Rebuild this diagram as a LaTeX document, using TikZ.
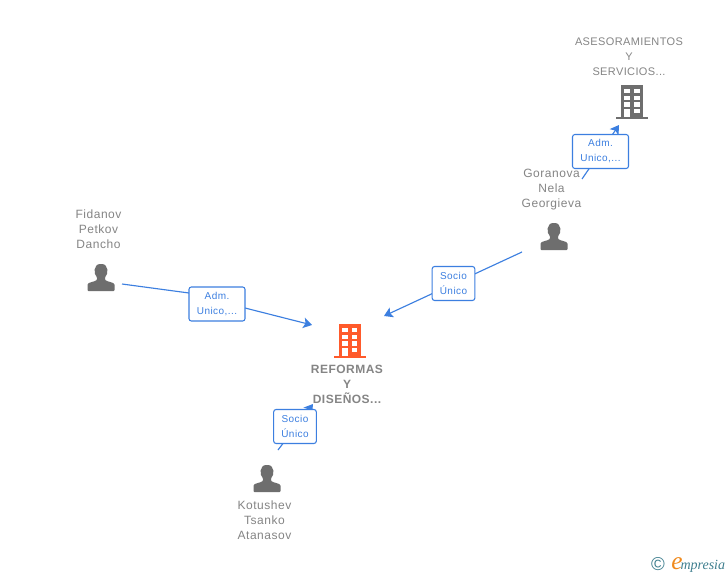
\documentclass[tikz,border=0pt]{standalone}
\usepackage{fontspec}
\setmainfont{Liberation Sans}
\newfontfamily\logofont{Liberation Serif}
\newfontfamily\namefont[LetterSpace=4.5]{Liberation Sans}
\newfontfamily\capsfont[LetterSpace=3.4]{Liberation Sans}
\newfontfamily\mainfont[LetterSpace=4,BoldFont={Liberation Sans Bold}]{Liberation Sans}
\newfontfamily\boxfont[LetterSpace=4.5]{Liberation Sans}
\usetikzlibrary{arrows.meta}
\definecolor{linkblue}{HTML}{3C7FE0}
\definecolor{txtgray}{HTML}{858585}
\definecolor{icongray}{HTML}{6E6E6E}
\definecolor{orangeb}{HTML}{FF5A2B}
\definecolor{logoteal}{HTML}{3F7F8F}
\definecolor{logoorange}{HTML}{F08A1D}
\tikzset{
  x=0.75pt,y=-0.75pt,
  namelabel/.style={text=txtgray,font=\namefont\fontsize{9}{11.25}\selectfont,align=center,inner sep=0pt},
  capslabel/.style={namelabel,font=\capsfont\fontsize{8.25}{11.25}\selectfont},
  mainlabel/.style={namelabel,font=\mainfont\bfseries\fontsize{9}{11.25}\selectfont},
  linkbox/.style={draw=linkblue,line width=0.8pt,rounded corners=1.8pt,fill=white,text=linkblue,
    font=\boxfont\fontsize{7.5}{11.25}\selectfont,align=center,inner sep=0pt,minimum height=25.5pt},
  link/.style={draw=linkblue,line width=0.85pt},
  linkarrow/.style={link,-{Stealth[length=6.5pt,width=8pt,inset=1.5pt]}},
}
% person icon, centred at #2
\newcommand{\personicon}[2][icongray]{%
  \begin{scope}[shift={(#2)}]
    \fill[#1,rounded corners=0.6pt] (-13.5,13.5) -- (-13.5,8)
      .. controls (-13.5,4.5) and (-6,4.5) .. (-4,2)
      -- (-4,-0.5) .. controls (-7.5,-3.5) and (-7.5,-13.5) .. (0,-13.5)
      .. controls (7.5,-13.5) and (7.5,-3.5) .. (4,-0.5) -- (4,2)
      .. controls (6,4.5) and (13.5,4.5) .. (13.5,8) -- (13.5,13.5) -- cycle;
  \end{scope}}
% building icon, centred at #2
\newcommand{\buildingicon}[2][icongray]{%
  \begin{scope}[shift={(#2)}]
    \fill[#1] (-16,14.5) rectangle (16,17);
    \fill[#1] (-11,-17) rectangle (11,15);
    \foreach \yy in {-13,-6.3,0.3}{
      \fill[white] (-7.7,\yy) rectangle (-2,\yy+4.4);
      \fill[white] (2,\yy) rectangle (7.7,\yy+4.4);}
    \fill[white] (-7.7,7) rectangle (-2,15);
    \fill[white] (2,7) rectangle (7.7,11.4);
  \end{scope}}
\begin{document}
\begin{tikzpicture}
\useasboundingbox (0,0) rectangle (728,575);
\fill[white] (0,0) rectangle (728,575);

% text labels
\node[capslabel] (ases) at (629,57) {ASESORAMIENTOS\\Y\\SERVICIOS...};
\node[namelabel] (gora) at (551.5,190) {Goranova\\Nela\\Georgieva};
\node[namelabel] (fida) at (98.5,229) {Fidanov\\Petkov\\Dancho};
\node[mainlabel] (refo) at (347,384.5) {REFORMAS\\Y\\DISEÑOS...};
\node[namelabel] (kotu) at (264.5,520) {Kotushev\\Tsanko\\Atanasov};

% icon anchors
\coordinate (asesicon) at (632,102);
\coordinate (goraicon) at (554,236.5);
\coordinate (fidaicon) at (101,277.5);
\coordinate (refoicon) at (349.5,341);
\coordinate (kotuicon) at (267,478.5);
\buildingicon{asesicon}
\personicon{goraicon}
\personicon{fidaicon}
\buildingicon[orangeb]{refoicon}
\personicon{kotuicon}

% connector ends
\coordinate (c1a) at (582,179);
\coordinate (c1b) at (619,125);
\coordinate (c2a) at (522,252);
\coordinate (c2b) at (384,316);
\coordinate (c3a) at (122,284);
\coordinate (c3m1) at (189,293);
\coordinate (c3m2) at (245,308);
\coordinate (c3b) at (312,325);
\coordinate (c4a) at (278,450);
\coordinate (c4b) at (313,404);

\draw[linkarrow] (c1a) -- (c1b);
\draw[linkarrow] (c2a) -- (c2b);
\draw[linkarrow] (c3a) -- (c3m1) -- (c3m2) -- (c3b);
\draw[linkarrow] (c4a) -- (c4b);

% link labels
\node[linkbox,minimum width=42pt] (l1) at (600.5,151.5) {Adm.\\Unico,...};
\node[linkbox,minimum width=32pt] (l2) at (453.5,283.5) {Socio\\Único};
\node[linkbox,minimum width=42pt] (l3) at (217,304) {Adm.\\Unico,...};
\node[linkbox,minimum width=32pt] (l4) at (295,426.5) {Socio\\Único};

% logo
\node[inner sep=0pt,text=logoteal] (copy) at (658,564) {\fontsize{14}{14}\selectfont\char"00A9};
\node[inner sep=0pt,anchor=base west] (emp) at (671,569) {\logofont\itshape\fontsize{19}{19}\selectfont\textcolor{logoorange}{e}\kern-1.5pt\fontsize{10.5}{10.5}\selectfont\textcolor{logoteal}{mpresia}};
\end{tikzpicture}
\end{document}
